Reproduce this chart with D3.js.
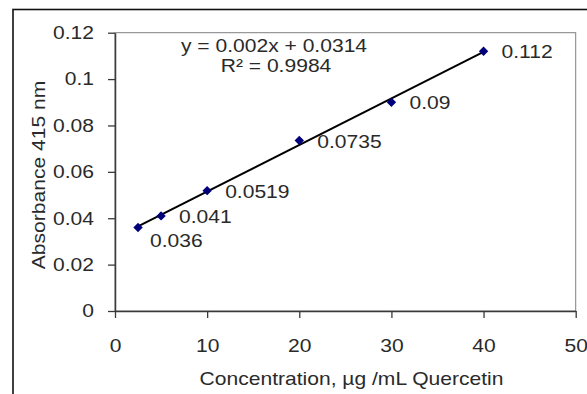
<!DOCTYPE html>
<html>
<head>
<meta charset="utf-8">
<script src="https://cdn.jsdelivr.net/npm/d3@7"></script>
<style>
  html, body { margin: 0; padding: 0; background: #fff; }
  svg text { font-family: "Liberation Sans", Arial, sans-serif; fill: #2a2a2a; }
</style>
</head>
<body>
<svg id="chart" width="587" height="394"></svg>
<script>
// data
const concentrations = [2.5, 5, 10, 20, 30, 40];
const absorbances = [0.036, 0.041, 0.0519, 0.0735, 0.09, 0.112];
const pointLabels = ['0.036', '0.041', '0.0519', '0.0735', '0.09', '0.112'];

const xTicks = [0, 10, 20, 30, 40, 50];
const xTickLabels = ['0', '10', '20', '30', '40', '50'];
const yTicks = [0, 0.02, 0.04, 0.06, 0.08, 0.1, 0.12];
const yTickLabels = ['0', '0.02', '0.04', '0.06', '0.08', '0.1', '0.12'];

const equationLines = ['y = 0.002x + 0.0314', 'R\u00b2 = 0.9984'];
const xTitle = 'Concentration, \u00b5g /mL Quercetin';
const yTitle = 'Absorbance 415 nm';

// layout
const plot = { left: 115, top: 32.7, right: 575.7, bottom: 311 };
const fontSize = 18;
const stretch = 1.17; // text in the picture is a bit wider than tall

const svg = d3.select('svg#chart');

// outer chart frame (cut off at right and bottom)
svg.append('rect')
  .attr('x', 13).attr('y', 9.5)
  .attr('width', 620).attr('height', 420)
  .attr('fill', '#fff')
  .attr('stroke', '#111')
  .attr('stroke-width', 1.6);

const xScale = d3.scaleLinear()
  .domain([0, 50])
  .range([plot.left, plot.right]);

const yScale = d3.scaleLinear()
  .domain([0, 0.12])
  .range([plot.bottom, plot.top]);

// plot area border
svg.append('rect')
  .attr('x', plot.left).attr('y', plot.top)
  .attr('width', plot.right - plot.left)
  .attr('height', plot.bottom - plot.top)
  .attr('fill', 'none')
  .attr('stroke', '#808080')
  .attr('stroke-width', 1);

const yAxis = svg.append('g')
  .attr('transform', 'translate(' + plot.left + ',0)')
  .call(d3.axisLeft(yScale)
    .tickValues(yTicks)
    .tickFormat((d, i) => yTickLabels[i])
    .tickSize(7)
    .tickSizeOuter(0)
    .tickPadding(14));

const xAxis = svg.append('g')
  .attr('transform', 'translate(0,' + plot.bottom + ')')
  .call(d3.axisBottom(xScale)
    .tickValues(xTicks)
    .tickFormat((d, i) => xTickLabels[i])
    .tickSize(7)
    .tickSizeOuter(0)
    .tickPadding(21));

[xAxis, yAxis].forEach(axis => {
  axis.select('.domain').attr('stroke', '#3a3a3a').attr('stroke-width', 1.5);
  axis.selectAll('.tick line').attr('stroke', '#3a3a3a').attr('stroke-width', 1.3);
  axis.selectAll('.tick text')
    .attr('font-size', fontSize)
    .attr('font-family', null)
    .attr('fill', '#2a2a2a')
    .attr('transform', 'scale(' + stretch + ',1)');
});
yAxis.selectAll('.tick text').attr('x', -21 / stretch);

function addText(x, y, str, anchor, extra) {
  return svg.append('text')
    .attr('transform', 'translate(' + x + ',' + y + ')' + (extra || '') + ' scale(' + stretch + ',1)')
    .attr('text-anchor', anchor)
    .attr('font-size', fontSize)
    .text(str);
}

// axis titles
addText(351.5, 385, xTitle, 'middle');
addText(45, 175, yTitle, 'middle', ' rotate(-90)');

// linear trendline by least squares
const mx = d3.mean(concentrations);
const my = d3.mean(absorbances);
const sxy = d3.sum(concentrations, (x, i) => (x - mx) * (absorbances[i] - my));
const sxx = d3.sum(concentrations, x => (x - mx) * (x - mx));
const slope = sxy / sxx;
const intercept = my - slope * mx;
const xExtent = d3.extent(concentrations);

svg.append('path')
  .datum(xExtent)
  .attr('fill', 'none')
  .attr('stroke', '#000')
  .attr('stroke-width', 2)
  .attr('d', d3.line()
    .x(d => xScale(d))
    .y(d => yScale(slope * d + intercept)));

// markers
const points = concentrations.map((x, i) => ({ x: x, y: absorbances[i], label: pointLabels[i] }));

svg.selectAll('path.marker')
  .data(points).enter().append('path')
  .attr('class', 'marker')
  .attr('d', d3.symbol(d3.symbolSquare, 44))
  .attr('transform', d => 'translate(' + xScale(d.x) + ',' + yScale(d.y) + ') rotate(45)')
  .attr('fill', '#00007a');

// data labels, first one was nudged below its point
points.forEach((d, i) => {
  const dx = i === 0 ? 12 : 18;
  const dy = i === 0 ? 19 : 7;
  addText(xScale(d.x) + dx, yScale(d.y) + dy, d.label, 'start');
});

// equation
addText(274, 51.5, equationLines[0], 'middle');
addText(276, 71.7, equationLines[1], 'middle');
</script>
</body>
</html>
